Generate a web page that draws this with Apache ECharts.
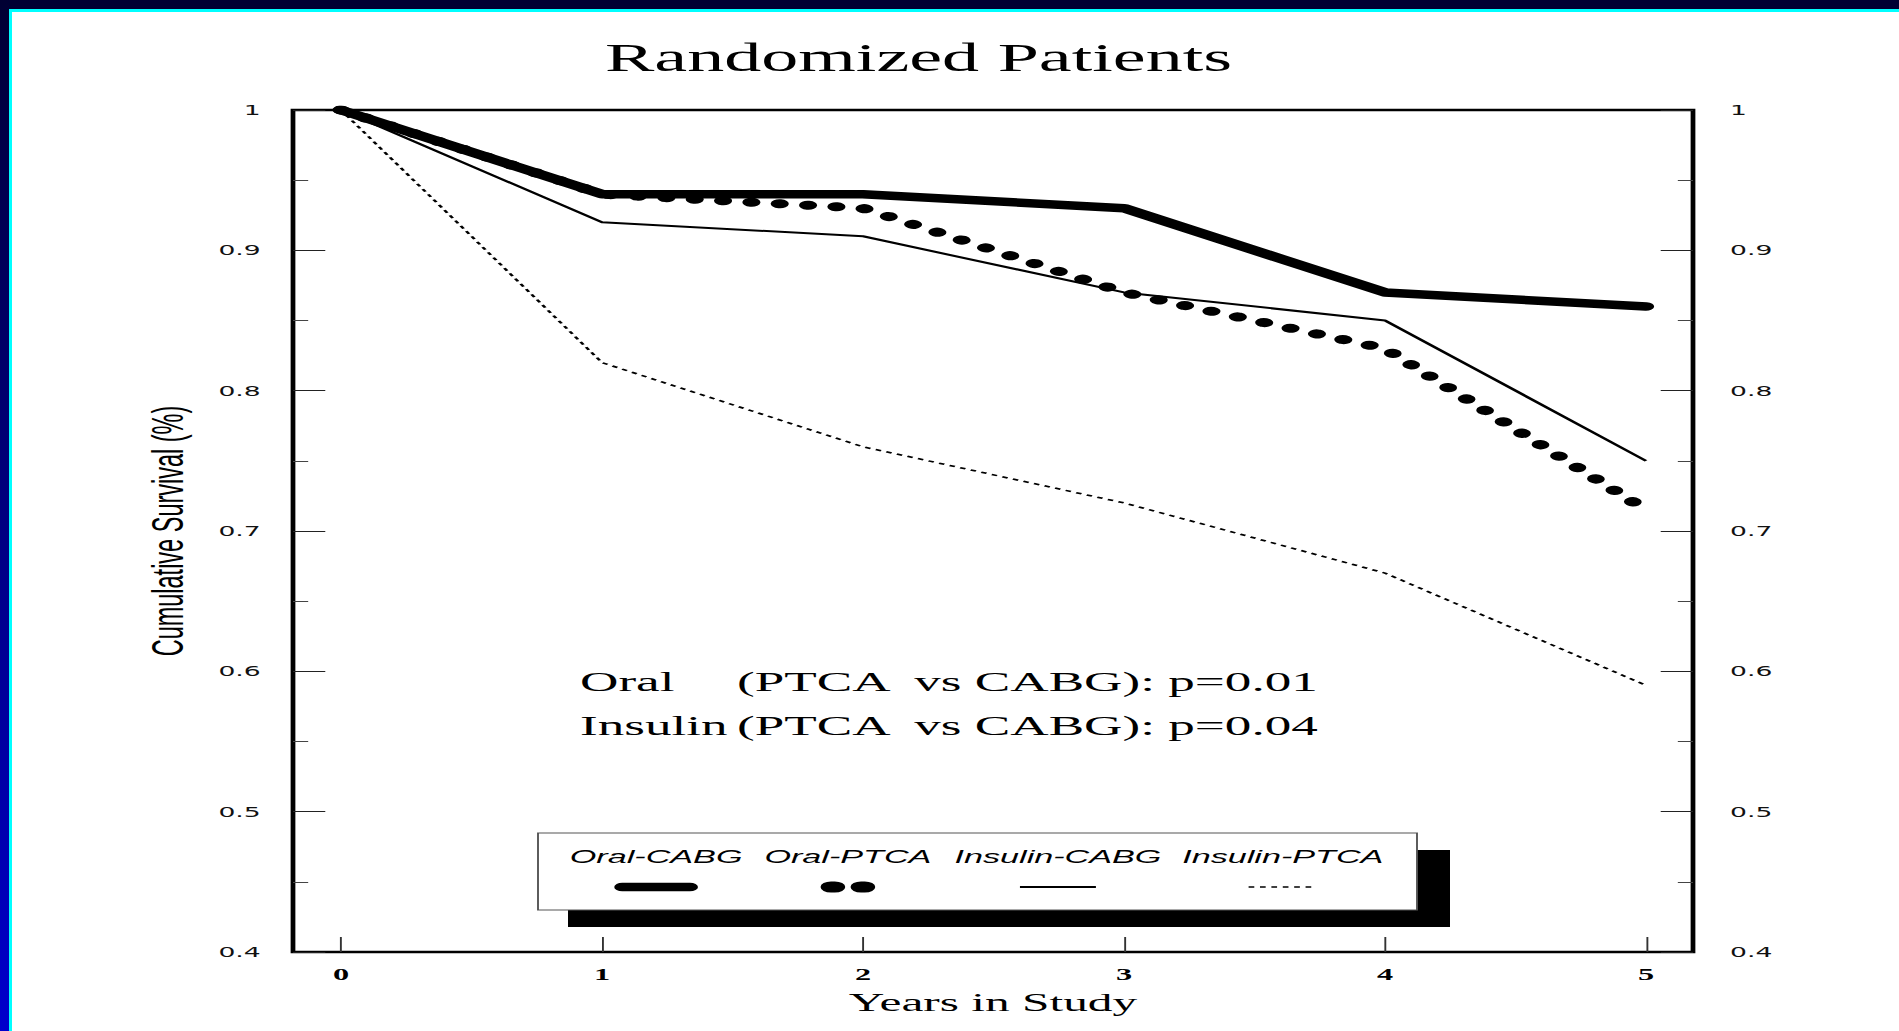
<!DOCTYPE html>
<html>
<head>
<meta charset="utf-8">
<title>Randomized Patients</title>
<script src="https://cdn.jsdelivr.net/npm/echarts@6/dist/echarts.min.js"></script>
<style>
  html, body { margin: 0; padding: 0; background: #fff; overflow: hidden; width: 1899px; height: 1031px; }
  /* the slide artwork is wide: the chart is laid out narrow and stretched sideways */
  #chart { position: absolute; left: 0; top: 0; width: 1000px; height: 1031px; transform: scaleX(1.899); transform-origin: 0 0; background: #fff; }
  #barTop  { position: absolute; left: 0; top: 0; width: 1899px; height: 9px; background: #000033; }
  #lineTop { position: absolute; left: 9px; top: 9px; width: 1890px; height: 3px; background: #00ffff; }
  #barLeft { position: absolute; left: 0; top: 0; width: 9px; height: 1031px; background: linear-gradient(#000033, #0000cc); }
  #lineLeft{ position: absolute; left: 9px; top: 9px; width: 3px; height: 1022px; background: #00ffff; }
</style>
</head>
<body>
<div id="chart"></div>
<div id="barTop"></div><div id="barLeft"></div><div id="lineTop"></div><div id="lineLeft"></div>
<script>
// Years of follow-up and cumulative survival per group
const years       = [0, 1, 2, 3, 4, 5];
const oralCABG    = [1, 0.94, 0.94, 0.93, 0.87, 0.86];
const oralPTCA    = [1, 0.94, 0.93, 0.87, 0.83, 0.715];
const insulinCABG = [1, 0.92, 0.91, 0.87, 0.85, 0.75];
const insulinPTCA = [1, 0.82, 0.76, 0.72, 0.67, 0.59];

const seriesNames = ['Oral-CABG', 'Oral-PTCA', 'Insulin-CABG', 'Insulin-PTCA'];
const yearTicks     = [0, 1, 2, 3, 4, 5];
const survivalTicks = [0.4, 0.5, 0.6, 0.7, 0.8, 0.9, 1];

const pGroups = ['Oral', 'Insulin'];
const pValues = ['0.01', '0.04'];

const valuesByName = {
  'Oral-CABG': oralCABG,
  'Oral-PTCA': oralPTCA,
  'Insulin-CABG': insulinCABG,
  'Insulin-PTCA': insulinPTCA
};

// stroke looks, shared by the curves and the key
const lineLooks = {
  'Oral-CABG':    { width: 8.5, type: 'solid',     cap: 'round' },
  'Oral-PTCA':    { width: 9,   type: [0.5, 14.5], cap: 'round' },
  'Insulin-CABG': { width: 2,   type: 'solid',     cap: 'butt'  },
  'Insulin-PTCA': { width: 1.6, type: [3, 3],      cap: 'butt'  }
};

const SX = 1.899;               // horizontal stretch of the page
const px = v => v / SX;         // page x -> chart x

const serif = 'Liberation Serif, Times New Roman, serif';
const sans  = 'Liberation Sans, Arial, sans-serif';

// draw order: thin curves underneath, thick ones on top
const drawOrder = ['Insulin-PTCA', 'Insulin-CABG', 'Oral-PTCA', 'Oral-CABG'];
const series = drawOrder.map(name => ({
  name,
  type: 'line',
  data: years.map((x, i) => [x, valuesByName[name][i]]),
  symbol: 'none',
  showSymbol: false,
  silent: true,
  animation: false,
  lineStyle: {
    color: '#000',
    width: lineLooks[name].width,
    type: lineLooks[name].type,
    cap: lineLooks[name].cap,
    join: 'round'
  }
}));

// key: label above a stroke sample
const keyCenters = [345.5, 446.5, 557.1, 675.5];
const keyHalfLen = [17.8, 8.9, 20, 18];
const keyGraphics = [];
keyGraphics.push({ type: 'rect', z: 10, shape: { x: px(568), y: 850, width: px(1450) - px(568), height: 77 }, style: { fill: '#000' } });
keyGraphics.push({ type: 'rect', z: 11, shape: { x: px(538), y: 833, width: px(1417) - px(538), height: 77 }, style: { fill: '#fff', stroke: '#555', lineWidth: 1 } });
seriesNames.forEach((name, i) => {
  const cx = keyCenters[i];
  keyGraphics.push({
    type: 'text', z: 12, x: cx, y: 857,
    style: { text: name, fontFamily: sans, fontStyle: 'italic', fontSize: 18, fill: '#000', align: 'center', verticalAlign: 'middle' }
  });
  const look = lineLooks[name];
  let width = look.width, dash = look.type === 'solid' ? null : look.type;
  if (name === 'Oral-PTCA') { width = 11; dash = [2, 13.8]; }
  keyGraphics.push({
    type: 'polyline', z: 12,
    shape: { points: [[cx - keyHalfLen[i], 887], [cx + keyHalfLen[i], 887]] },
    style: { stroke: '#000', fill: null, lineWidth: width, lineDash: dash, lineCap: look.cap }
  });
});

// p-value notes
const noteGraphics = [];
const noteRows = [681, 725];
pGroups.forEach((g, i) => {
  noteGraphics.push({
    type: 'text', z: 12, x: px(580), y: noteRows[i],
    style: { text: g, fontFamily: serif, fontSize: 28, fill: '#000', align: 'left', verticalAlign: 'middle' }
  });
  noteGraphics.push({
    type: 'text', z: 12, x: px(737), y: noteRows[i],
    style: { text: '(PTCA  vs CABG): p=' + pValues[i], fontFamily: serif, fontSize: 28, fill: '#000', align: 'left', verticalAlign: 'middle' }
  });
});

const yAxisBase = {
  type: 'value', min: 0.4, max: 1, interval: 0.1,
  axisLine: { show: false, onZero: false },
  splitLine: { show: false },
  axisTick: { show: true, inside: true, length: 17, lineStyle: { color: '#222', width: 1.2 } },
  minorTick: { show: true, splitNumber: 2, length: 8, lineStyle: { color: '#444', width: 1 } }
};

const chart = echarts.init(document.getElementById('chart'), null, { renderer: 'svg' });
chart.setOption({
  animation: false,
  backgroundColor: '#fff',
  title: {
    text: 'Randomized Patients',
    left: px(909), top: 33.5, textAlign: 'center',
    textStyle: { fontFamily: serif, fontSize: 39, fontWeight: 'normal', color: '#000' }
  },
  grid: {
    show: true, borderColor: '#000', borderWidth: 2.5, backgroundColor: 'transparent',
    left: px(293), right: 1000 - px(1693), top: 110, bottom: 79
  },
  xAxis: {
    type: 'value', min: -0.184, max: 5.18,
    axisLine: { show: false, onZero: false },
    splitLine: { show: false },
    axisTick: { show: true, inside: true, length: 15, customValues: yearTicks, lineStyle: { color: '#333', width: 1 } },
    axisLabel: { customValues: yearTicks, margin: 14, fontFamily: serif, fontWeight: 'bold', fontSize: 17, color: '#000' },
    name: 'Years in Study', nameLocation: 'middle', nameGap: 37,
    nameTextStyle: { fontFamily: serif, fontSize: 26, color: '#000' }
  },
  yAxis: [
    Object.assign({}, yAxisBase, {
      position: 'left',
      axisLabel: { customValues: survivalTicks, margin: 17, fontFamily: 'DejaVu Sans', fontSize: 14, color: '#111' },
      name: 'Cumulative Survival (%)', nameLocation: 'middle', nameGap: 54,
      nameTextStyle: { fontFamily: sans, fontSize: 23.5, color: '#000' }
    }),
    Object.assign({}, yAxisBase, {
      position: 'right',
      axisLabel: { customValues: survivalTicks, margin: 19.5, fontFamily: 'DejaVu Sans', fontSize: 14, color: '#111' }
    })
  ],
  series,
  graphic: { elements: keyGraphics.concat(noteGraphics) }
});
</script>
</body>
</html>
